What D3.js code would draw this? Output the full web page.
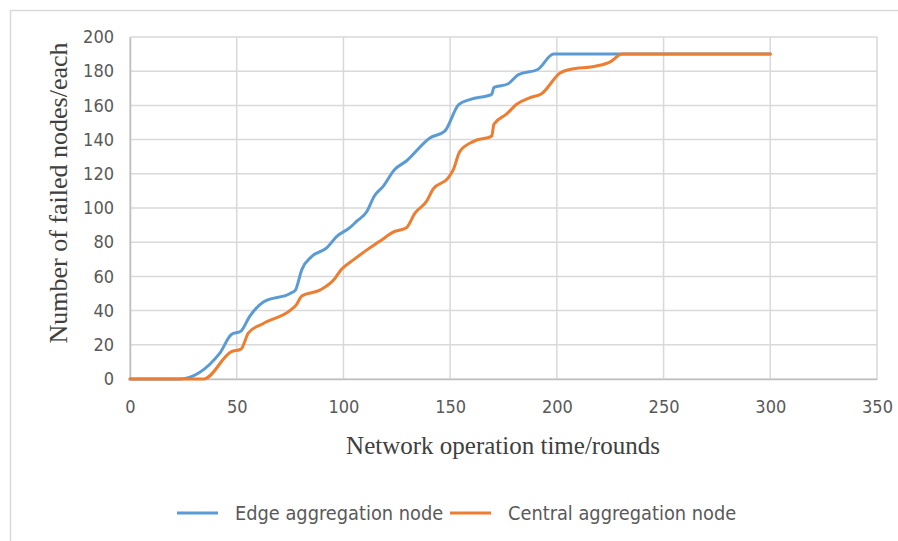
<!DOCTYPE html>
<html>
<head>
<meta charset="utf-8">
<script src="https://cdn.jsdelivr.net/npm/d3@7"></script>
<style>
  html, body { margin: 0; padding: 0; background: #fff; }
  svg { display: block; }
  .tick text { font-family: "Liberation Sans Narrow", "DejaVu Sans Condensed", "Open Sans", sans-serif; font-stretch: condensed; }
</style>
</head>
<body>
<svg id="chart" width="898" height="541"></svg>
<script>
// Series: failed nodes over network operation time
const edgeRounds = [0, 23, 42, 47.5, 52, 56, 62.5, 75, 77.5, 80.5, 85, 92, 97, 103, 106, 111, 114.5, 118.5, 124, 129.5, 140.5, 147.5, 154, 159.5, 169.5, 170.5, 177, 182, 191, 198.5, 205, 230, 260, 300];
const edgeFailed = [0, 0, 15, 26, 28, 36.5, 45, 50, 52, 64, 71.5, 76.5, 83.5, 88.5, 92, 98, 107, 112.5, 122.5, 127.5, 141, 145, 160.5, 163.5, 166.5, 170.5, 172.5, 178, 181, 190, 190, 190, 190, 190];

const centralRounds = [0, 34.5, 47.5, 52, 55.5, 62.5, 75.5, 78, 80.5, 89, 95.5, 99, 104.5, 111, 117, 123.5, 129.5, 133.5, 139, 142, 149, 151.5, 154.5, 161, 169.5, 170.5, 176.5, 181, 187.5, 193, 201.5, 206, 218.5, 225, 230.5, 260, 300];
const centralFailed = [0, 0, 16, 17.5, 27, 32.5, 40.5, 43.5, 48.5, 52, 58, 64, 69.5, 75.5, 80.5, 86, 88.5, 97, 104, 111, 117.5, 122.5, 133, 139, 142, 149, 155, 160.5, 164.5, 167, 179, 181, 183, 185.5, 190, 190, 190];

const xTicks = [0, 50, 100, 150, 200, 250, 300, 350];
const yTicks = [0, 20, 40, 60, 80, 100, 120, 140, 160, 180, 200];

const seriesNames = ["Edge aggregation node", "Central aggregation node"];
const seriesColors = ["#5b9bd5", "#ed7d31"];

const svg = d3.select("#chart");

// outer chart frame
svg.append("rect")
  .attr("x", 10.5).attr("y", 10.5)
  .attr("width", 900).attr("height", 540)
  .attr("fill", "none").attr("stroke", "#d9d9d9").attr("stroke-width", 1.5);

const plot = { left: 130, right: 877, top: 37, bottom: 379 };

const x = d3.scaleLinear().domain([0, 350]).range([plot.left, plot.right]);
const y = d3.scaleLinear().domain([0, 200]).range([plot.bottom, plot.top]);

// gridlines
const grid = svg.append("g");
grid.selectAll("line.h").data(yTicks).join("line")
  .attr("x1", plot.left).attr("x2", plot.right)
  .attr("y1", d => y(d)).attr("y2", d => y(d))
  .attr("stroke", "#d9d9d9").attr("stroke-width", 1.5);
grid.selectAll("line.v").data(xTicks).join("line")
  .attr("x1", d => x(d)).attr("x2", d => x(d))
  .attr("y1", plot.top).attr("y2", plot.bottom)
  .attr("stroke", "#d9d9d9").attr("stroke-width", 1.5);

// axes
const xAxis = svg.append("g")
  .attr("transform", `translate(0,${plot.bottom})`)
  .call(d3.axisBottom(x).tickValues(xTicks).tickSize(0).tickPadding(21).tickFormat(d3.format("d")));
const yAxis = svg.append("g")
  .attr("transform", `translate(${plot.left},0)`)
  .call(d3.axisLeft(y).tickValues(yTicks).tickSize(0).tickPadding(16).tickFormat(d3.format("d")));
[xAxis, yAxis].forEach(g => {
  g.select(".domain").attr("stroke", "#bfbfbf").attr("stroke-width", 1.5);
  g.selectAll(".tick text").attr("font-size", 18).attr("fill", "#595959");
});

// series lines
const line = d3.line()
  .x(d => x(d[0]))
  .y(d => y(d[1]))
  .curve(d3.curveMonotoneX);

const edgeData = edgeRounds.map((r, i) => [r, edgeFailed[i]]);
const centralData = centralRounds.map((r, i) => [r, centralFailed[i]]);

svg.append("path").datum(edgeData)
  .attr("d", line).attr("fill", "none")
  .attr("stroke", seriesColors[0]).attr("stroke-width", 3)
  .attr("stroke-linejoin", "round").attr("stroke-linecap", "round");
svg.append("path").datum(centralData)
  .attr("d", line).attr("fill", "none")
  .attr("stroke", seriesColors[1]).attr("stroke-width", 3)
  .attr("stroke-linejoin", "round").attr("stroke-linecap", "round");

// axis titles
svg.append("text")
  .attr("x", 503).attr("y", 454)
  .attr("text-anchor", "middle")
  .attr("font-family", "'Liberation Serif', 'Times New Roman', serif")
  .attr("font-size", 25).attr("fill", "#404040")
  .text("Network operation time/rounds");
svg.append("text")
  .attr("transform", "translate(67,193) rotate(-90)")
  .attr("text-anchor", "middle")
  .attr("font-family", "'Liberation Serif', 'Times New Roman', serif")
  .attr("font-size", 26).attr("fill", "#404040")
  .text("Number of failed nodes/each");

// legend
const legendItems = [
  { name: seriesNames[0], color: seriesColors[0], x0: 177 },
  { name: seriesNames[1], color: seriesColors[1], x0: 450 }
];
const lg = svg.append("g");
legendItems.forEach(it => {
  lg.append("line")
    .attr("x1", it.x0).attr("x2", it.x0 + 41)
    .attr("y1", 513).attr("y2", 513)
    .attr("stroke", it.color).attr("stroke-width", 3);
  lg.append("text")
    .attr("x", it.x0 + 58).attr("y", 520)
    .attr("font-family", "'Liberation Sans Narrow', 'DejaVu Sans Condensed', 'Open Sans', sans-serif")
    .attr("font-stretch", "condensed")
    .attr("font-size", 19.8).attr("fill", "#595959")
    .text(it.name);
});
</script>
</body>
</html>
